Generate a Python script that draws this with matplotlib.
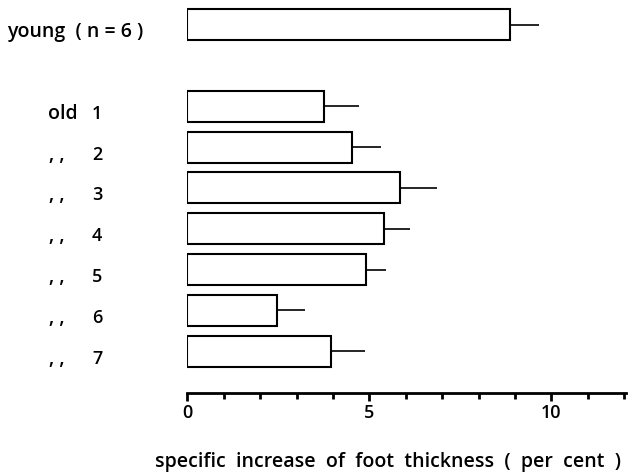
import matplotlib
matplotlib.use("Agg")
import matplotlib.pyplot as plt
import matplotlib.transforms as mtransforms
from matplotlib.ticker import MultipleLocator

plt.rcParams['font.family'] = ['Open Sans', 'DejaVu Sans']

# groups: young animals, then seven old animals
group_names = ["young  ( n = 6 )", "old", ", ,", ", ,", ", ,", ", ,", ", ,", ", ,"]
animal_ids = ["", "1", "2", "3", "4", "5", "6", "7"]
positions = [0, 2, 3, 4, 5, 6, 7, 8]
increase = [8.87, 3.76, 4.52, 5.85, 5.40, 4.90, 2.46, 3.94]
sem = [0.78, 0.96, 0.79, 1.00, 0.72, 0.55, 0.78, 0.95]

FS = 14

fig = plt.figure(figsize=(6.29, 4.77), dpi=100)
ax = fig.add_axes([187.3 / 629, 1 - 394.3 / 477, 12.05 * 36.4 / 629, 394.3 / 477])

ax.barh(positions, increase, height=0.76, color="white", edgecolor="black",
        linewidth=1.5, zorder=2)
# one-sided error bars (right side only)
ax.errorbar(increase, positions, xerr=[[0] * len(sem), sem], fmt="none",
            ecolor="black", elinewidth=1.2, capsize=0, zorder=1)

ax.set_xlim(0, 12.05)
ax.set_ylim(9.03, -0.63)

for s in ["top", "right", "left"]:
    ax.spines[s].set_visible(False)
ax.spines["bottom"].set_linewidth(2)
ax.set_yticks([])

ax.xaxis.set_major_locator(MultipleLocator(5))
ax.xaxis.set_minor_locator(MultipleLocator(1))
ax.tick_params(axis="x", which="major", length=6, width=2, labelsize=FS - 1, pad=1)
ax.tick_params(axis="x", which="minor", length=4.5, width=2)
for lbl in ax.get_xticklabels():
    lbl.set_fontweight("semibold")

# row labels on the left, sitting a little below the bar centres
trans = mtransforms.blended_transform_factory(fig.transFigure, ax.transData)
trans = trans + mtransforms.ScaledTranslation(0, -6.5 / 100, fig.dpi_scale_trans)
for name, num, p in zip(group_names, animal_ids, positions):
    if num == "":
        ax.text(7 / 629, p, name, transform=trans, ha="left", va="center",
                fontsize=FS, fontweight="semibold")
    else:
        x0 = 47.5 / 629 if name == "old" else 49 / 629
        ax.text(x0, p, name, transform=trans, ha="left", va="center",
                fontsize=FS, fontweight="semibold")
        ax.text(92 / 629, p, num, transform=trans, ha="left", va="center",
                fontsize=FS - 1, fontweight="semibold")

fig.text(388 / 629, 1 - 462 / 477,
         "specific  increase  of  foot  thickness  (  per  cent  )",
         ha="center", va="center", fontsize=FS, fontweight="semibold")

fig.savefig("out.png", dpi=100)
